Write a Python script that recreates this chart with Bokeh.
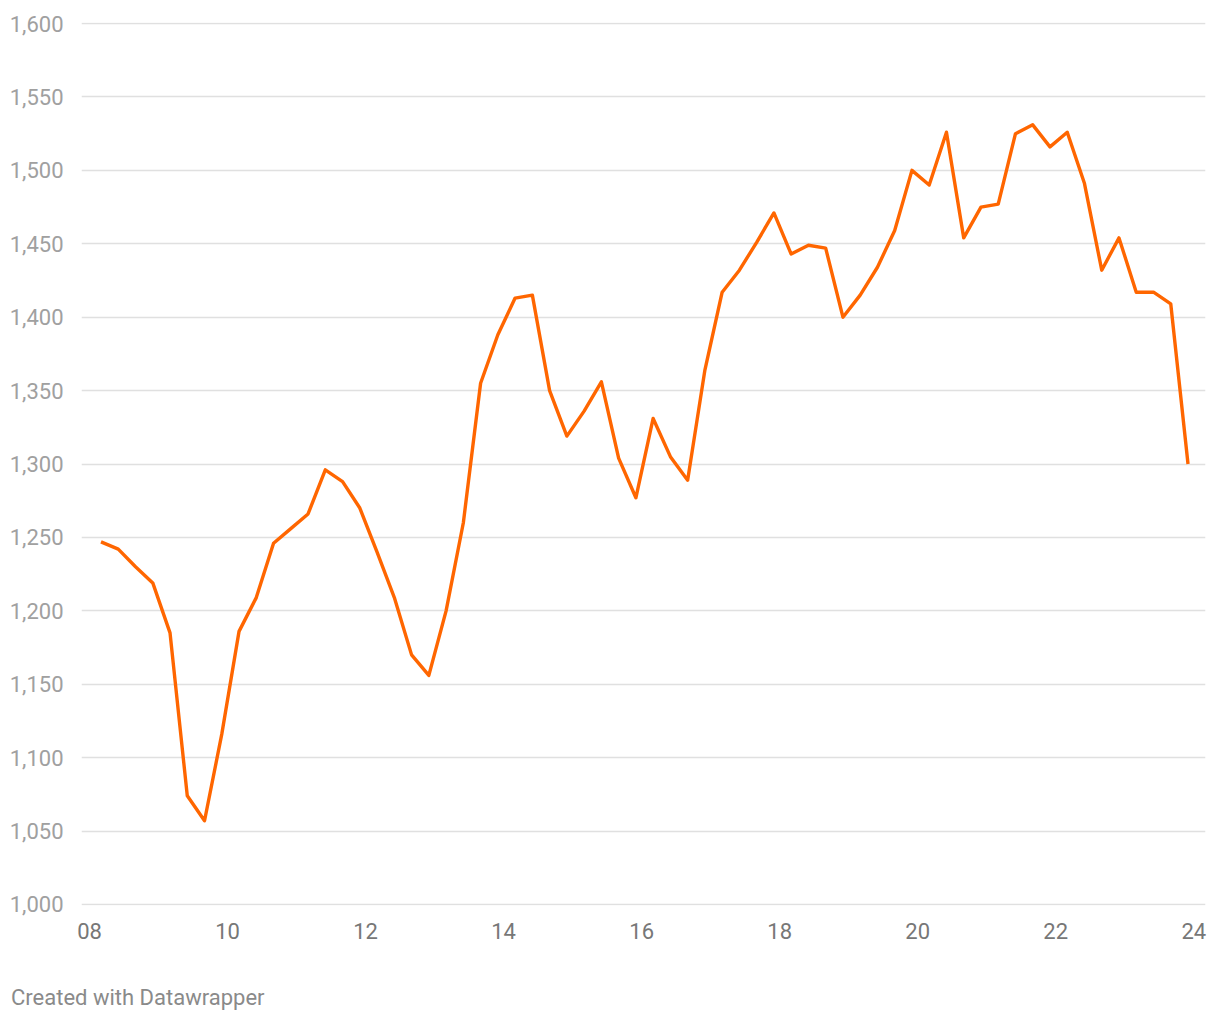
from bokeh.plotting import figure
from bokeh.models import FixedTicker, NumeralTickFormatter, Div, ColumnDataSource, Range1d
from bokeh.layouts import column
from bokeh.embed import file_html
from bokeh.resources import INLINE

# Quarterly observations, 2008 Q1 .. 2023 Q4 (plotted at the quarter's middle month)
start_year = 2008
values = [
    1247, 1242, 1230, 1219, 1185, 1074, 1057, 1116,   # 2008-2009
    1186, 1209, 1246, 1256, 1266, 1296, 1288, 1270,   # 2010-2011
    1240, 1209, 1170, 1156, 1200, 1260, 1355, 1388,   # 2012-2013
    1413, 1415, 1350, 1319, 1336, 1356, 1304, 1277,   # 2014-2015
    1331, 1305, 1289, 1364, 1417, 1432, 1451, 1471,   # 2016-2017
    1443, 1449, 1447, 1400, 1415, 1434, 1459, 1500,   # 2018-2019
    1490, 1526, 1454, 1475, 1477, 1525, 1531, 1516,   # 2020-2021
    1526, 1491, 1432, 1454, 1417, 1417, 1409, 1300,   # 2022-2023
]
x_ticks = [2008, 2010, 2012, 2014, 2016, 2018, 2020, 2022, 2024]
x_tick_labels = ["08", "10", "12", "14", "16", "18", "20", "22", "24"]
y_ticks = list(range(1000, 1601, 50))

xs = [start_year + 2 / 12 + 0.25 * i for i in range(len(values))]
src = ColumnDataSource(dict(x=xs, y=values))

p = figure(width=1220, height=960, output_backend="svg", toolbar_location=None,
           x_range=Range1d(2007.884, 2024.17), y_range=Range1d(999.3, 1600.7),
           min_border_left=81, min_border_right=15, min_border_top=22, min_border_bottom=55)
p.outline_line_color = None
p.background_fill_color = "white"
p.border_fill_color = "white"

p.line("x", "y", source=src, line_color="#ff6600", line_width=3.4, line_join="round")

# axes
p.xaxis.ticker = FixedTicker(ticks=x_ticks)
p.xaxis.major_label_overrides = {t: l for t, l in zip(x_ticks, x_tick_labels)}
p.yaxis.ticker = FixedTicker(ticks=y_ticks)
p.yaxis.formatter = NumeralTickFormatter(format="0,0")
for ax in (p.xaxis, p.yaxis):
    ax.axis_line_color = None
    ax.major_tick_line_color = None
    ax.minor_tick_line_color = None
    ax.major_label_text_font = "Roboto"
    ax.major_label_text_font_size = "22px"
p.xaxis.major_label_text_color = "#777777"
p.yaxis.major_label_text_color = "#a0a0a0"
p.xaxis.major_label_standoff = 11
p.yaxis.major_label_standoff = 12

p.xgrid.grid_line_color = None
p.ygrid.ticker = FixedTicker(ticks=y_ticks)
p.ygrid.grid_line_color = "#e0e0e0"
p.ygrid.grid_line_width = 1.4

footer = Div(text="Created with Datawrapper", width=1220, height=60,
             styles={"font-family": "Roboto", "font-size": "22px", "color": "#8a8a8a",
                     "padding-left": "6px", "padding-top": "17px"})

layout = column(p, footer, spacing=0)
open("out.html", "w").write(file_html(layout, INLINE))
